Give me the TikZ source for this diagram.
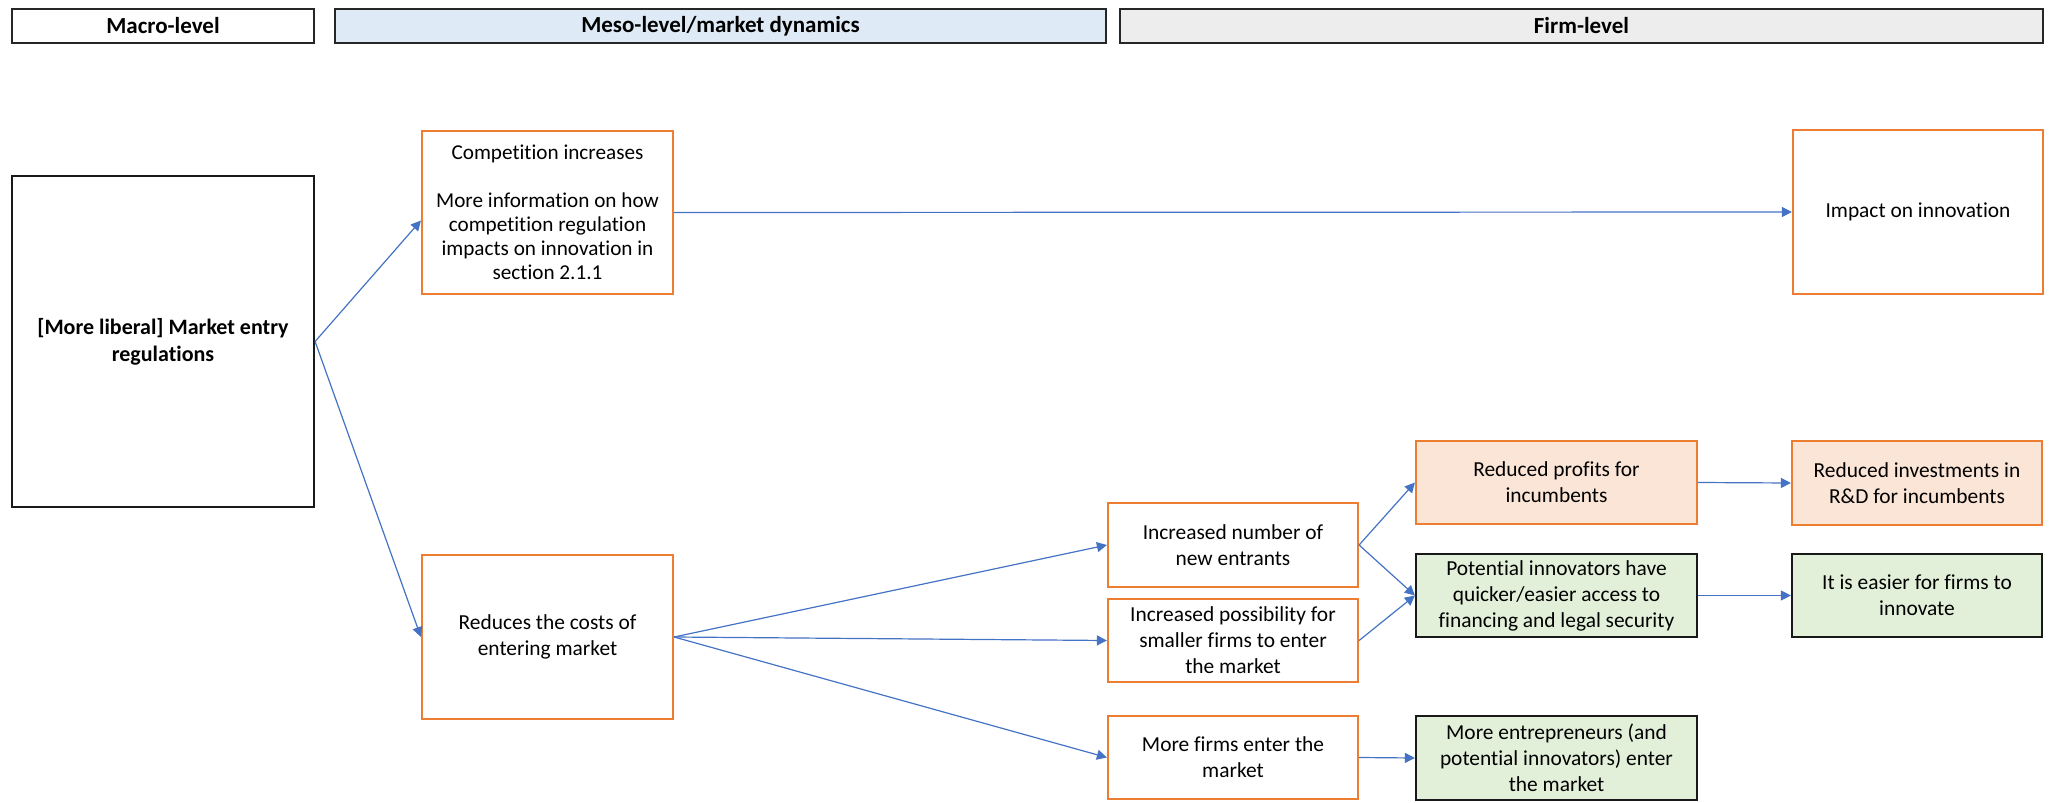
\documentclass[tikz,border=0pt]{standalone}
\usepackage{fontspec}
\setmainfont{Carlito}[RawFeature=-liga]
\usetikzlibrary{arrows.meta}
\definecolor{orangeline}{HTML}{ED7D31}
\definecolor{peach}{HTML}{FBE5D6}
\definecolor{lightgreen}{HTML}{E2F0D9}
\definecolor{lightblue}{HTML}{DEEBF7}
\definecolor{lightgrey}{HTML}{EDEDED}
\definecolor{arrowblue}{HTML}{4472C4}

\begin{document}
\begin{tikzpicture}[x=0.5pt,y=-0.5pt,
  header/.style={draw=black!85, line width=1pt, inner sep=0pt,
    minimum height=17pt, font=\fontsize{11.5}{13}\selectfont\bfseries},
  box/.style={draw=orangeline, line width=1.1pt, fill=white, align=center,
    inner sep=0pt, font=\fontsize{10.7}{13}\selectfont},
  redbox/.style={box, fill=peach},
  greenbox/.style={box, draw=black!90, fill=lightgreen},
  macrobox/.style={draw=black!90, line width=1.1pt, align=center, inner sep=0pt,
    font=\fontsize{11}{13.5}\selectfont\bfseries},
  arr/.style={draw=arrowblue, line width=0.6pt, -{Triangle[length=5pt,width=5pt]}}
]
\useasboundingbox (0,0) rectangle (2053,803);

% level headers
\node[header, minimum width=151pt] (hmacro) at (163,26) {Macro-level};
\node[header, minimum width=385.5pt, fill=lightblue] (hmeso) at (720.5,26) {Meso-level/market dynamics};
\node[header, minimum width=461.5pt, fill=lightgrey] (hfirm) at (1581.5,26) {Firm-level};

% macro level
\node[macrobox, minimum width=151pt, minimum height=165.5pt] (entry) at (163,341.5)
  {[More liberal] Market entry\\regulations};

% meso level
\node[box, minimum width=125.5pt, minimum height=81.5pt, font=\fontsize{10.6}{12}\selectfont] (comp) at (547.5,212.5)
  {Competition increases\\[12pt]More information on how\\competition regulation\\impacts on innovation in\\section 2.1.1};
\node[box, minimum width=125.5pt, minimum height=82pt] (costs) at (547.5,637)
  {Reduces the costs of\\entering market};
\node[box, minimum width=125pt, minimum height=42pt] (entrants) at (1233,545)
  {Increased number of\\new entrants};
\node[box, minimum width=125pt, minimum height=41.5pt] (smaller) at (1233,640.5)
  {Increased possibility for\\smaller firms to enter\\the market};
\node[box, minimum width=125pt, minimum height=41.5pt] (morefirms) at (1233,757.5)
  {More firms enter the\\market};

% firm level
\node[box, minimum width=125pt, minimum height=82pt] (impact) at (1918,212)
  {Impact on innovation};
\node[redbox, minimum width=140.5pt, minimum height=41.5pt] (profits) at (1556.5,482.5)
  {Reduced profits for\\incumbents};
\node[greenbox, minimum width=140.5pt, minimum height=41.5pt] (access) at (1556.5,595.5)
  {Potential innovators have\\quicker/easier access to\\financing and legal security};
\node[greenbox, minimum width=140.5pt, minimum height=42pt] (entrepreneurs) at (1556.5,758)
  {More entrepreneurs (and\\potential innovators) enter\\the market};
\node[redbox, minimum width=125pt, minimum height=42pt] (invest) at (1917,483)
  {Reduced investments in\\R\&D for incumbents};
\node[greenbox, minimum width=125pt, minimum height=41.5pt] (easier) at (1917,595.5)
  {It is easier for firms to\\innovate};

% connectors
\draw[arr] (entry.east) -- ([yshift=-4pt]comp.west);
\draw[arr] (entry.east) -- (costs.west);
\draw[arr] (comp.east) -- (impact.west);
\draw[arr] (costs.east) -- (entrants.west);
\draw[arr] (costs.east) -- (smaller.west);
\draw[arr] (costs.east) -- (morefirms.west);
\draw[arr] (entrants.east) -- (profits.west);
\draw[arr] (entrants.east) -- (access.west);
\draw[arr] (smaller.east) -- (access.west);
\draw[arr] (profits.east) -- (invest.west);
\draw[arr] (access.east) -- (easier.west);
\draw[arr] (morefirms.east) -- (entrepreneurs.west);
\end{tikzpicture}
\end{document}
